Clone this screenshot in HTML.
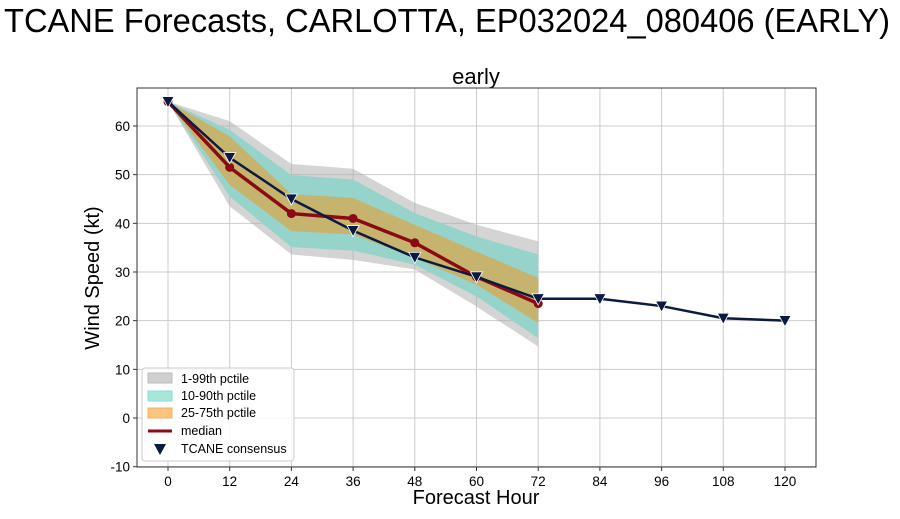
<!DOCTYPE html>
<html><head><meta charset="utf-8"><style>
body{margin:0;background:#fff;font-family:"Liberation Sans","DejaVu Sans",sans-serif}
svg text{font-family:"Liberation Sans","DejaVu Sans",sans-serif}
</style></head><body>
<svg id="c" width="900" height="514" xmlns="http://www.w3.org/2000/svg">
<text x="447" y="32" font-size="33" text-anchor="middle" textLength="886" lengthAdjust="spacingAndGlyphs">TCANE Forecasts, CARLOTTA, EP032024_080406 (EARLY)</text>
<text x="476" y="84" font-size="22" text-anchor="middle">early</text>
<text x="476" y="504" font-size="20" text-anchor="middle">Forecast Hour</text>
<text transform="translate(99,278) rotate(-90)" font-size="20" text-anchor="middle">Wind Speed (kt)</text>
<g id="grid"></g><g id="bands"></g><g id="lines"></g><g id="ticks"></g>
<rect x="137" y="88" width="679" height="379" fill="none" stroke="#333" stroke-width="1"/>
<g>
<rect x="142" y="368" width="152" height="93" rx="3" fill="#fff" fill-opacity="0.85" stroke="#ccc"/>
<rect x="148" y="373" width="24" height="10" fill="#cfcfcf" stroke="#bbb"/>
<text x="181" y="383" font-size="12.5">1-99th pctile</text>
<rect x="148" y="391" width="24" height="10" fill="#a8e6da" stroke="#8dd"/>
<text x="181" y="400" font-size="12.5">10-90th pctile</text>
<rect x="148" y="408" width="24" height="10" fill="#fbc47f" stroke="#f5b060"/>
<text x="181" y="417" font-size="12.5">25-75th pctile</text>
<line x1="148" y1="431" x2="172" y2="431" stroke="#8b0a14" stroke-width="3"/>
<text x="181" y="435" font-size="12.5">median</text>
<path d="M154,444 L166,444 L160,455 Z" fill="#0b1a40"/>
<text x="181" y="453" font-size="12.5">TCANE consensus</text>
</g>
</svg>
<script>
const hours=[0,12,24,36,48,60,72];
const conHours=[0,12,24,36,48,60,72,84,96,108,120];
const p1=[65,43.5,33.6,32.5,30.5,22.9,14.7];
const p99=[65,61,52.2,51.2,44.2,39.7,36.3];
const p10=[65,45.5,35.1,34.4,31.5,25,16.4];
const p90=[65,59.2,49.9,49,42.1,37.3,33.6];
const p25=[65,47.9,38.4,37.7,32.9,27.4,19.5];
const p75=[65,57.9,46,45.2,39.7,34.2,28.8];
const median=[65,51.5,42,41,36,29,23.5];
const consensus=[65,53.5,45,38.5,33,29,24.5,24.5,23,20.5,20];
const xTicks=[0,12,24,36,48,60,72,84,96,108,120];
const yTicks=[-10,0,10,20,30,40,50,60];
const NS="http://www.w3.org/2000/svg";
const X=h=>168+h*(785-168)/120;
const Y=v=>418-v*4.867;
function mk(t,a,p){const e=document.createElementNS(NS,t);for(const k in a)e.setAttribute(k,a[k]);document.getElementById(p).appendChild(e);return e;}
xTicks.forEach(t=>{
 const g=mk('line',{x1:X(t),x2:X(t),y1:88,y2:467,stroke:'#ccc','stroke-width':1},'grid');
 
 
 const tk=mk('line',{x1:X(t),x2:X(t),y1:467,y2:471,stroke:'#333'},'ticks');
 
 
 const l=mk('text',{x:X(t),y:486,'font-size':13.5,'text-anchor':'middle'},'ticks');l.textContent=t;
 
 
});
yTicks.forEach(t=>{
 const g=mk('line',{x1:137,x2:816,y1:Y(t),y2:Y(t),stroke:'#ccc','stroke-width':1},'grid');
 
 
 const tk=mk('line',{x1:133,x2:137,y1:Y(t),y2:Y(t),stroke:'#333'},'ticks');
 
 
 const l=mk('text',{x:130,y:Y(t)+5,'font-size':13.5,'text-anchor':'end'},'ticks');l.textContent=t;
 
 
});
function band(lo,hi,fill,name){
 let d='M'+hours.map((h,i)=>X(h)+','+Y(hi[i])).join('L');
 d+='L'+hours.slice().reverse().map((h,j)=>{const i=hours.length-1-j;return X(h)+','+Y(lo[i]);}).join('L')+'Z';
 const e=mk('path',{d:d,fill:fill},'bands');
 
 
}
band(p1,p99,'rgba(170,170,170,0.5)','band-1-99');
band(p10,p90,'#96d3cb','band-10-90');
band(p25,p75,'#c6b46e','band-25-75');
const med=mk('polyline',{points:hours.map((h,i)=>X(h)+','+Y(median[i])).join(' '),fill:'none',stroke:'#8b0a14','stroke-width':3.5},'lines');


hours.forEach((h,i)=>{const c=mk('circle',{cx:X(h),cy:Y(median[i]),r:4.5,fill:'#8b0a14'},'lines');
 
 });
const con=mk('polyline',{points:conHours.map((h,i)=>X(h)+','+Y(consensus[i])).join(' '),fill:'none',stroke:'#0b1a40','stroke-width':2.5},'lines');


conHours.forEach((h,i)=>{const x=X(h),y=Y(consensus[i]);
 const m=mk('path',{d:`M${x-6},${y-5}L${x+6},${y-5}L${x},${y+6}Z`,fill:'#0b1a40',stroke:'#fff','stroke-width':0.8},'lines');
 
 });
</script>
</body></html>
